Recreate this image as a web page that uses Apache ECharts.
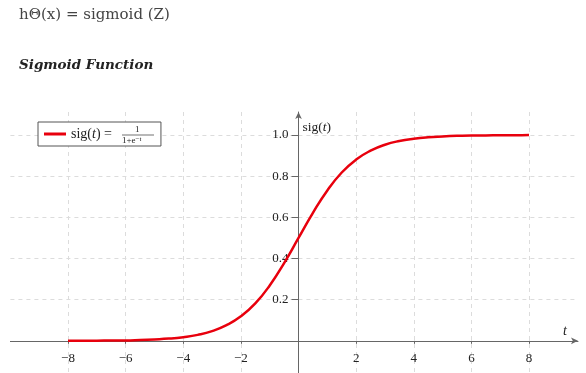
<!DOCTYPE html>
<html>
<head>
<meta charset="utf-8">
<script src="https://cdn.jsdelivr.net/npm/echarts@6/dist/echarts.min.js"></script>
<style>
html,body{margin:0;padding:0;background:#fff;}
#chart{width:586px;height:373px;}
</style>
</head>
<body>
<div id="chart"></div>
<script>
// Data
var tValues = [-8,-7.5,-7,-6.5,-6,-5.5,-5,-4.5,-4,-3.5,-3,-2.5,-2,-1.5,-1,-0.5,0,0.5,1,1.5,2,2.5,3,3.5,4,4.5,5,5.5,6,6.5,7,7.5,8];
var sigValues = [0.000,0.001,0.001,0.002,0.002,0.004,0.007,0.011,0.018,0.029,0.047,0.076,0.119,0.182,0.269,0.378,0.500,0.622,0.731,0.818,0.881,0.924,0.953,0.971,0.982,0.989,0.993,0.996,0.998,0.998,0.999,0.999,1.000];
var xTickLabels = [-8,-6,-4,-2,2,4,6,8];
var yTickLabels = [0.2,0.4,0.6,0.8,1.0];
var titleText = 'h\u0398(x) = sigmoid (Z)';
var subtitleText = 'Sigmoid Function';
var seriesName = 'sig(t)';

var serif = '"Liberation Serif", "DejaVu Serif", serif';
var dserif = '"DejaVu Serif", serif';
var points = tValues.map(function (t, i) { return [t, sigValues[i]]; });

// axis geometry
var gridLeft = 10.4, gridRight = 8, gridTop = 112, gridBottom = -9;
var xMin = -10, xMax = 9.7, yMin = -0.2, yMax = 1.112;
var plotW = 586 - gridLeft - gridRight, plotH = 373 - gridTop - gridBottom;
var x0px = gridLeft + (0 - xMin) / (xMax - xMin) * plotW;
var y0px = gridTop + (yMax - 0) / (yMax - yMin) * plotH;
var yAxisOffset = -(x0px - gridLeft);
var xAxisOffset = -((373 - gridBottom) - y0px);

var chart = echarts.init(document.getElementById('chart'), null, {renderer: 'canvas'});
chart.setOption({
  animation: false,
  backgroundColor: '#fff',
  title: [
    {text: titleText, left: 19, top: 8, padding: 0, textStyle: {fontFamily: dserif, fontSize: 15, fontWeight: 'normal', color: '#444'}},
    {text: subtitleText, left: 19, top: 58, padding: 0, textStyle: {fontFamily: dserif, fontSize: 13.5, fontWeight: 'bold', fontStyle: 'italic', color: '#222'}}
  ],
  grid: {left: gridLeft, right: gridRight, top: gridTop, bottom: gridBottom, containLabel: false, outerBoundsMode: 'none'},
  legend: {
    left: 38, top: 122,
    orient: 'horizontal',
    itemWidth: 22, itemHeight: 3, itemGap: 4,
    padding: [5, 49, 5, 6],
    borderColor: '#555', borderWidth: 1, borderRadius: 0,
    backgroundColor: '#fff',
    icon: 'rect',
    data: [seriesName],
    formatter: function () { return '{n|sig(}{i|t}{n|) =}'; },
    textStyle: {
      fontFamily: serif, fontSize: 14, color: '#222',
      rich: {
        n: {fontFamily: serif, fontSize: 14, color: '#222'},
        i: {fontFamily: serif, fontSize: 14, fontStyle: 'italic', color: '#222'}
      }
    }
  },
  graphic: [
    {type: 'text', z: 100, left: 135, top: 125, style: {text: '1', font: '9px ' + serif, fill: '#222'}},
    {type: 'line', z: 100, shape: {x1: 122, y1: 135, x2: 154, y2: 135}, style: {stroke: '#333', lineWidth: 0.7}},
    {type: 'text', z: 100, left: 122, top: 136, style: {rich: {a: {fontFamily: serif, fontSize: 9, fill: '#222'}, s: {fontFamily: serif, fontSize: 7, fill: '#222', verticalAlign: 'top'}}, text: '{a|1+e}{s|\u2212t}'}}
  ],
  xAxis: {
    type: 'value', min: xMin, max: xMax, interval: 2,
    position: 'bottom', offset: xAxisOffset,
    name: 't', nameLocation: 'end', nameGap: -13,
    nameTextStyle: {fontFamily: serif, fontSize: 14, fontStyle: 'italic', color: '#222', align: 'center', verticalAlign: 'bottom', padding: [0, 0, 3, 0]},
    axisLine: {onZero: false, symbol: ['none', 'arrow'], symbolSize: [5, 7], lineStyle: {color: '#666', width: 1}},
    axisTick: {show: true, length: 3, inside: false, lineStyle: {color: '#666'}},
    axisLabel: {
      margin: 11, fontFamily: serif, fontSize: 13, color: '#222',
      showMinLabel: false, showMaxLabel: false,
      formatter: function (v) { return xTickLabels.indexOf(v) >= 0 ? String(v).replace('-', '\u2212') : ''; }
    },
    splitLine: {show: true, showMinLine: false, showMaxLine: false, lineStyle: {color: '#dcdcdc', type: [4, 4], width: 1}}
  },
  yAxis: {
    type: 'value', min: yMin, max: yMax, interval: 0.2,
    position: 'left', offset: yAxisOffset,
    name: '{n|sig(}{i|t}{n|)}', nameLocation: 'end', nameGap: -15,
    nameTextStyle: {
      align: 'left', verticalAlign: 'middle', padding: [0, 0, 0, 4],
      rich: {
        n: {fontFamily: serif, fontSize: 13.5, color: '#222'},
        i: {fontFamily: serif, fontSize: 13.5, fontStyle: 'italic', color: '#222'}
      }
    },
    axisLine: {onZero: false, symbol: ['none', 'arrow'], symbolSize: [5, 7], lineStyle: {color: '#666', width: 1}},
    axisTick: {show: true, length: 7, lineStyle: {color: '#666'}},
    axisLabel: {
      margin: 10, fontFamily: serif, fontSize: 13, color: '#222',
      showMinLabel: false, showMaxLabel: false,
      formatter: function (v) {
        var r = Math.round(v * 10) / 10;
        return yTickLabels.indexOf(r) >= 0 && Math.abs(v - r) < 1e-6 ? r.toFixed(1) : '';
      }
    },
    splitLine: {show: true, showMinLine: false, showMaxLine: false, lineStyle: {color: '#dcdcdc', type: [4, 4], width: 1}}
  },
  series: [{
    name: seriesName,
    type: 'line',
    data: points,
    smooth: true,
    showSymbol: false,
    lineStyle: {color: '#e8000d', width: 2.5},
    itemStyle: {color: '#e8000d'}
  }]
});
</script>
</body>
</html>
